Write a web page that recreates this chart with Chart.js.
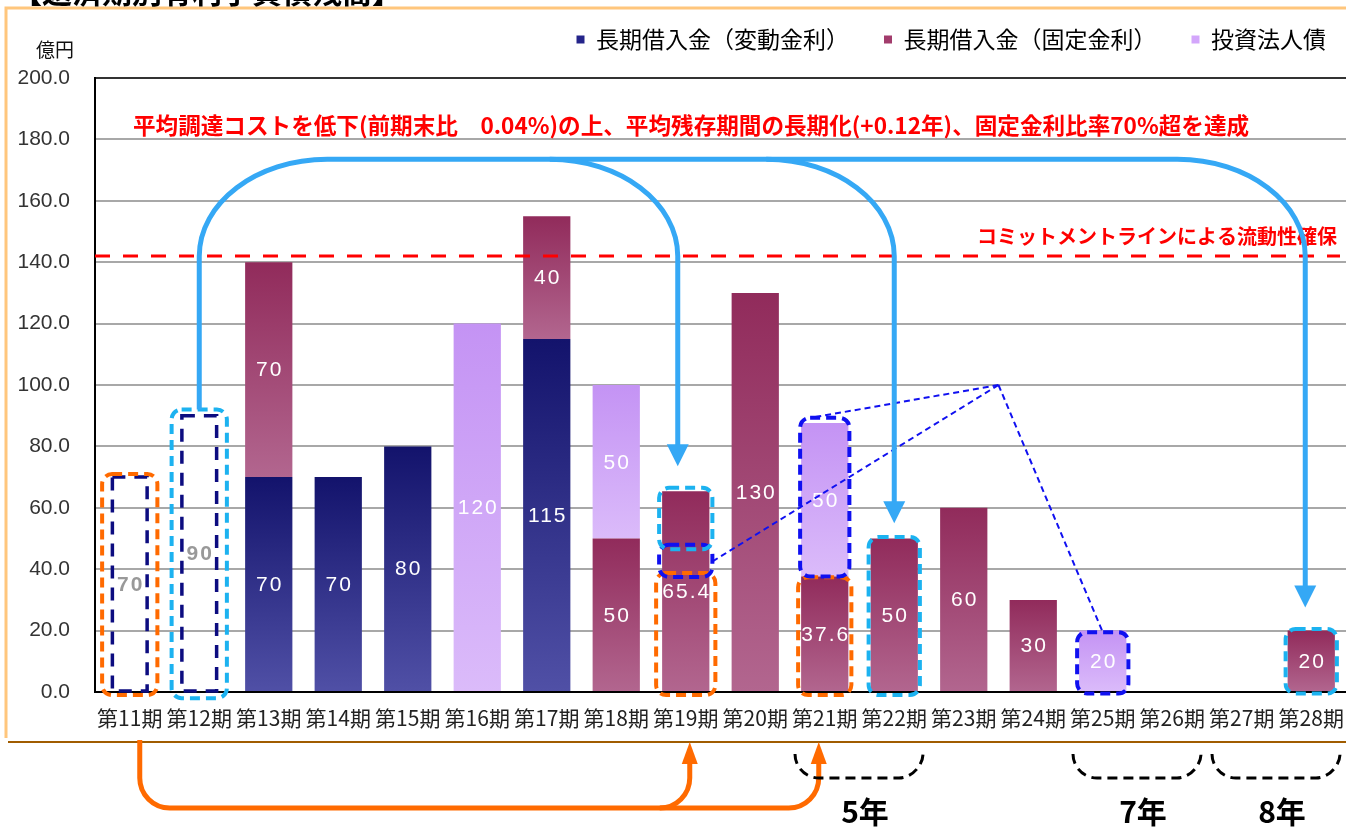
<!DOCTYPE html>
<html lang="ja">
<head>
<meta charset="utf-8">
<title>返済期別有利子負債残高</title>
<script src="https://cdn.jsdelivr.net/npm/chart.js"></script>
<style>
  html, body { margin: 0; padding: 0; background: #fff; }
  canvas { display: block; }
</style>
</head>
<body>
<canvas id="grafica" width="1346" height="830"></canvas>
<script>
// datos (億円)
const periods = ['第11期', '第12期', '第13期', '第14期', '第15期', '第16期', '第17期', '第18期', '第19期',
                 '第20期', '第21期', '第22期', '第23期', '第24期', '第25期', '第26期', '第27期', '第28期'];
const variableRate = [0, 0, 70, 70, 80, 0, 115, 0, 0, 0, 0, 0, 0, 0, 0, 0, 0, 0];
const fixedRate    = [0, 0, 70, 0, 0, 0, 40, 50, 65.4, 130, 37.6, 50, 60, 30, 0, 0, 0, 20];
const bonds        = [0, 0, 0, 0, 0, 120, 0, 50, 0, 0, 50, 0, 0, 0, 20, 0, 0, 0];
const repaid       = [70, 90, 0, 0, 0, 0, 0, 0, 0, 0, 0, 0, 0, 0, 0, 0, 0, 0];
const seriesNames  = ['長期借入金（変動金利）', '長期借入金（固定金利）', '投資法人債'];
const commitLine   = 142;

const goalText   = '平均調達コストを低下(前期末比　0.04%)の上、平均残存期間の長期化(+0.12年)、固定金利比率70%超を達成';
const commitText = 'コミットメントラインによる流動性確保';

// dashed boxes: [period index, from, to, colour, extra half width]
const dashBoxes = [
  [0, -1, 71, '#ff6a00', 4],
  [1, -2, 92, '#1cb2f0', 4],
  [8, -1, 38.8, '#ff6a00', 6],
  [8, 37.5, 48, '#1010f0', 3],
  [8, 46.5, 66.5, '#1cb2f0', 3],
  [10, -1, 37.4, '#ff6a00', 3],
  [10, 37.6, 89.3, '#1010f0', 1],
  [11, -1, 50.5, '#1cb2f0', 2],
  [14, -0.5, 19.5, '#1010f0', 2],
  [17, -0.5, 20.5, '#1cb2f0', 2]
];
const spans = [[10, 11, '5年'], [14, 15, '7年'], [16, 17, '8年']];

const allSeries = [variableRate, fixedRate, bonds, repaid];
const topColors = ['#13136c', '#912b5b', '#c493f4'];
const lowColors = ['#5050a6', '#b2668f', '#dbbbfa'];
const legendColors = ['#24248a', '#a23c6c', '#d3a6fb'];
const K = 0.5523;

function stackBase(d, i) {
  let s = 0;
  for (let k = 0; k < d; k++) s += allSeries[k][i];
  return s;
}

function barFill(d) {
  return function(c) {
    const y = c.chart.scales.y;
    const v = allSeries[d][c.dataIndex];
    if (!y || !v) return topColors[d];
    const b = stackBase(d, c.dataIndex);
    const y0 = y.getPixelForValue(b), y1 = y.getPixelForValue(b + v);
    if (!isFinite(y0) || !isFinite(y1)) return topColors[d];
    const g = c.chart.ctx.createLinearGradient(0, y1, 0, y0);
    g.addColorStop(0, topColors[d]);
    g.addColorStop(1, lowColors[d]);
    return g;
  };
}

function arrowHead(c, x, tipY, w, len, dir) {
  c.beginPath();
  c.moveTo(x, tipY);
  c.lineTo(x - w / 2, tipY - dir * len);
  c.lineTo(x + w / 2, tipY - dir * len);
  c.closePath();
  c.fill();
}

const extras = {
  id: 'extras',
  afterLayout(chart) {
    // leyenda un poco más a la derecha
    if (chart.legend) { chart.legend.left += 15; chart.legend.right += 15; }
  },
  beforeDraw(chart) {
    const c = chart.ctx, a = chart.chartArea;
    c.save();
    c.strokeStyle = '#ffc67c'; c.lineWidth = 3;
    c.beginPath(); c.moveTo(6, a.bottom + 46); c.lineTo(6, 8); c.lineTo(chart.width, 8); c.stroke();
    c.strokeStyle = '#a05c00'; c.lineWidth = 2;
    c.beginPath(); c.moveTo(8, a.bottom + 50); c.lineTo(chart.width, a.bottom + 50); c.stroke();
    c.fillStyle = '#000'; c.font = 'bold 30px "Noto Sans CJK JP"';
    c.textBaseline = 'alphabetic';
    c.fillText('【返済期別有利子負債残高】', 12, 3);
    c.restore();
  },
  afterDatasetsDraw(chart) {
    const c = chart.ctx, a = chart.chartArea;
    const xs = chart.scales.x, ys = chart.scales.y;
    const xc = i => xs.getPixelForValue(i);
    const yv = v => ys.getPixelForValue(v);
    const band = xc(1) - xc(0);
    const barW = chart.getDatasetMeta(0).data[0].width;
    c.save();

    // repaid outlines
    const rm = chart.getDatasetMeta(3);
    c.strokeStyle = '#0c0c80'; c.lineWidth = 3.5; c.setLineDash([13, 9]);
    rm.data.forEach((el, i) => {
      if (!repaid[i]) return;
      c.strokeRect(el.x - el.width / 2, el.y, el.width, el.base - el.y);
    });
    c.setLineDash([]);

    // value labels
    c.textAlign = 'center'; c.textBaseline = 'middle';
    c.letterSpacing = '2px';
    for (let d = 0; d < 4; d++) {
      chart.getDatasetMeta(d).data.forEach((el, i) => {
        const v = allSeries[d][i];
        if (!v) return;
        c.fillStyle = d === 3 ? '#999999' : '#ffffff';
        c.font = d === 3 ? 'bold 21px "Liberation Sans"' : '21px "Liberation Sans"';
        c.fillText(String(v), el.x + 1, (el.y + el.base) / 2 + 1);
      });
    }
    c.letterSpacing = '0px';

    // commitment line
    c.strokeStyle = '#ff0000'; c.lineWidth = 3; c.setLineDash([15, 13]);
    c.beginPath(); c.moveTo(a.left, yv(commitLine)); c.lineTo(a.right - 6, yv(commitLine)); c.stroke();
    c.setLineDash([]);

    c.fillStyle = '#ff0000';
    c.font = 'bold 22.6px "Noto Sans CJK JP"';
    c.textAlign = 'left';
    c.fillText(goalText, a.left + 38, yv(184.7));
    c.font = 'bold 20px "Noto Sans CJK JP"';
    c.textAlign = 'right';
    c.fillText(commitText, a.right - 9, yv(commitLine) - 20);

    // dashed boxes
    c.lineWidth = 4; c.setLineDash([10, 6]);
    dashBoxes.forEach(([i, lo, hi, col, pad]) => {
      const half = barW / 2 + pad;
      c.strokeStyle = col;
      c.beginPath();
      c.roundRect(xc(i) - half, yv(hi), half * 2, yv(lo) - yv(hi), 10);
      c.stroke();
    });

    // thin dashed pointers
    const ax = xc(12) + band / 2, ay = yv(100);
    c.strokeStyle = '#1010f0'; c.lineWidth = 2; c.setLineDash([6, 4]);
    [[xc(10) - 14, yv(89.3)], [xc(8) + barW / 2 + 3, yv(42.5)], [xc(14), yv(19.5)]].forEach(([px, py]) => {
      c.beginPath(); c.moveTo(ax, ay); c.lineTo(px, py); c.stroke();
    });
    c.setLineDash([]);

    // blue arrows
    const top = yv(173.5), rx = 128, ry = 97;
    c.strokeStyle = '#35a8f5'; c.fillStyle = '#35a8f5'; c.lineWidth = 5;
    const x0 = xc(1), xEnd = xc(17) - 6;
    const endTip = yv(27.5);
    c.beginPath();
    c.moveTo(x0, yv(92));
    c.lineTo(x0, top + ry);
    c.bezierCurveTo(x0, top + ry - ry * K, x0 + rx - rx * K, top, x0 + rx, top);
    c.lineTo(xEnd - rx, top);
    c.bezierCurveTo(xEnd - rx + rx * K, top, xEnd, top + ry - ry * K, xEnd, top + ry);
    c.lineTo(xEnd, endTip - 18);
    c.stroke();
    arrowHead(c, xEnd, endTip, 22, 22, 1);
    [[xc(8) - 8, yv(73.5)], [xc(11), yv(55)]].forEach(([bx, tip]) => {
      c.beginPath();
      c.moveTo(bx - rx, top);
      c.bezierCurveTo(bx - rx + rx * K, top, bx, top + ry - ry * K, bx, top + ry);
      c.lineTo(bx, tip - 18);
      c.stroke();
      arrowHead(c, bx, tip, 22, 22, 1);
    });
    c.restore();
  },
  afterDraw(chart) {
    const c = chart.ctx, a = chart.chartArea;
    const xs = chart.scales.x;
    const xc = i => xs.getPixelForValue(i);
    const band = xc(1) - xc(0);
    const ob = a.bottom;
    c.save();

    c.fillStyle = '#111'; c.font = '19px "Noto Sans CJK JP"';
    c.textAlign = 'center'; c.textBaseline = 'middle';
    c.fillText('億円', a.left - 40, a.top - 28);

    // orange arrow
    const oy = ob + 116, r = 30;
    const ox0 = xc(0) + 10, oxEnd = xc(10) - 6, ox1 = xc(8) + 4;
    c.strokeStyle = '#ff6a00'; c.fillStyle = '#ff6a00'; c.lineWidth = 5;
    c.beginPath();
    c.moveTo(ox0, ob + 48);
    c.lineTo(ox0, oy - r);
    c.bezierCurveTo(ox0, oy - r + r * K, ox0 + r - r * K, oy, ox0 + r, oy);
    c.lineTo(oxEnd - r, oy);
    c.bezierCurveTo(oxEnd - r + r * K, oy, oxEnd, oy - r + r * K, oxEnd, oy - r);
    c.lineTo(oxEnd, ob + 66);
    c.stroke();
    c.beginPath();
    c.moveTo(ox1 - r, oy);
    c.bezierCurveTo(ox1 - r + r * K, oy, ox1, oy - r + r * K, ox1, oy - r);
    c.lineTo(ox1, ob + 66);
    c.stroke();
    arrowHead(c, oxEnd, ob + 50, 16, 22, -1);
    arrowHead(c, ox1, ob + 50, 16, 22, -1);

    // year spans
    const bt = ob + 62, bb = ob + 86, br = 24;
    spans.forEach(([i0, i1, txt]) => {
      const x1 = xc(i0) - band / 2 + 5, x2 = xc(i1) + band / 2 - 6;
      c.strokeStyle = '#000'; c.lineWidth = 3; c.setLineDash([10, 6]);
      c.beginPath();
      c.moveTo(x1, bt);
      c.bezierCurveTo(x1, bt + br * K, x1 + br - br * K, bb, x1 + br, bb);
      c.lineTo(x2 - br, bb);
      c.bezierCurveTo(x2 - br + br * K, bb, x2, bb - br * K, x2, bt);
      c.stroke();
      c.setLineDash([]);
      c.fillStyle = '#000'; c.font = 'bold 30px "Noto Sans CJK JP"';
      c.fillText(txt, (x1 + x2) / 2 + 6, ob + 120);
    });
    c.restore();
  }
};

const grafica = document.getElementById('grafica');
const Conf = {
  type: 'bar',
  data: {
    labels: periods,
    datasets: [
      { label: seriesNames[0], data: variableRate, backgroundColor: barFill(0) },
      { label: seriesNames[1], data: fixedRate, backgroundColor: barFill(1) },
      { label: seriesNames[2], data: bonds, backgroundColor: barFill(2) },
      { label: '返済済', data: repaid, backgroundColor: 'rgba(0,0,0,0)', barPercentage: 0.5 }
    ]
  },
  options: {
    responsive: false,
    animation: false,
    events: [],
    layout: { padding: { top: -7, left: 0, right: 0, bottom: 0 } },
    datasets: { bar: { barPercentage: 0.68, categoryPercentage: 1, borderWidth: 0 } },
    scales: {
      x: {
        stacked: true,
        grid: { display: false, drawTicks: false },
        border: { color: '#000', width: 2 },
        ticks: { autoSkip: false, maxRotation: 0, padding: 13, color: '#222',
                 font: { family: 'Noto Sans CJK JP', size: 21 } },
        afterFit: s => { s.height = 138; s.paddingLeft = 0; s.paddingRight = 0; }
      },
      y: {
        stacked: true, min: 0, max: 200,
        grid: { drawTicks: false, lineWidth: 2,
                color: g => g.tick.value === 200 ? '#333' : (g.tick.value === 0 ? '#000' : '#a8a8a8') },
        border: { color: '#000', width: 2 },
        ticks: { stepSize: 20, padding: 25, color: '#333', callback: v => v.toFixed(1),
                 font: { family: 'Liberation Sans', size: 21 } },
        afterFit: s => { s.width = 95; }
      }
    },
    plugins: {
      tooltip: { enabled: false },
      legend: {
        position: 'top', align: 'end',
        labels: {
          boxWidth: 8, boxHeight: 8, padding: 35, color: '#222',
          font: { family: 'Noto Sans CJK JP', size: 23 },
          generateLabels: () => seriesNames.map((t, i) => ({
            text: t, fillStyle: legendColors[i], strokeStyle: legendColors[i],
            lineWidth: 0, hidden: false, datasetIndex: i
          }))
        }
      },
      subtitle: {
        display: true, text: '', weight: 500,
        font: { size: 5, lineHeight: 1 }, padding: { top: 0, bottom: 12 }
      }
    }
  },
  plugins: [extras]
};

window.Graf = new Chart(grafica, Conf);
</script>
</body>
</html>
